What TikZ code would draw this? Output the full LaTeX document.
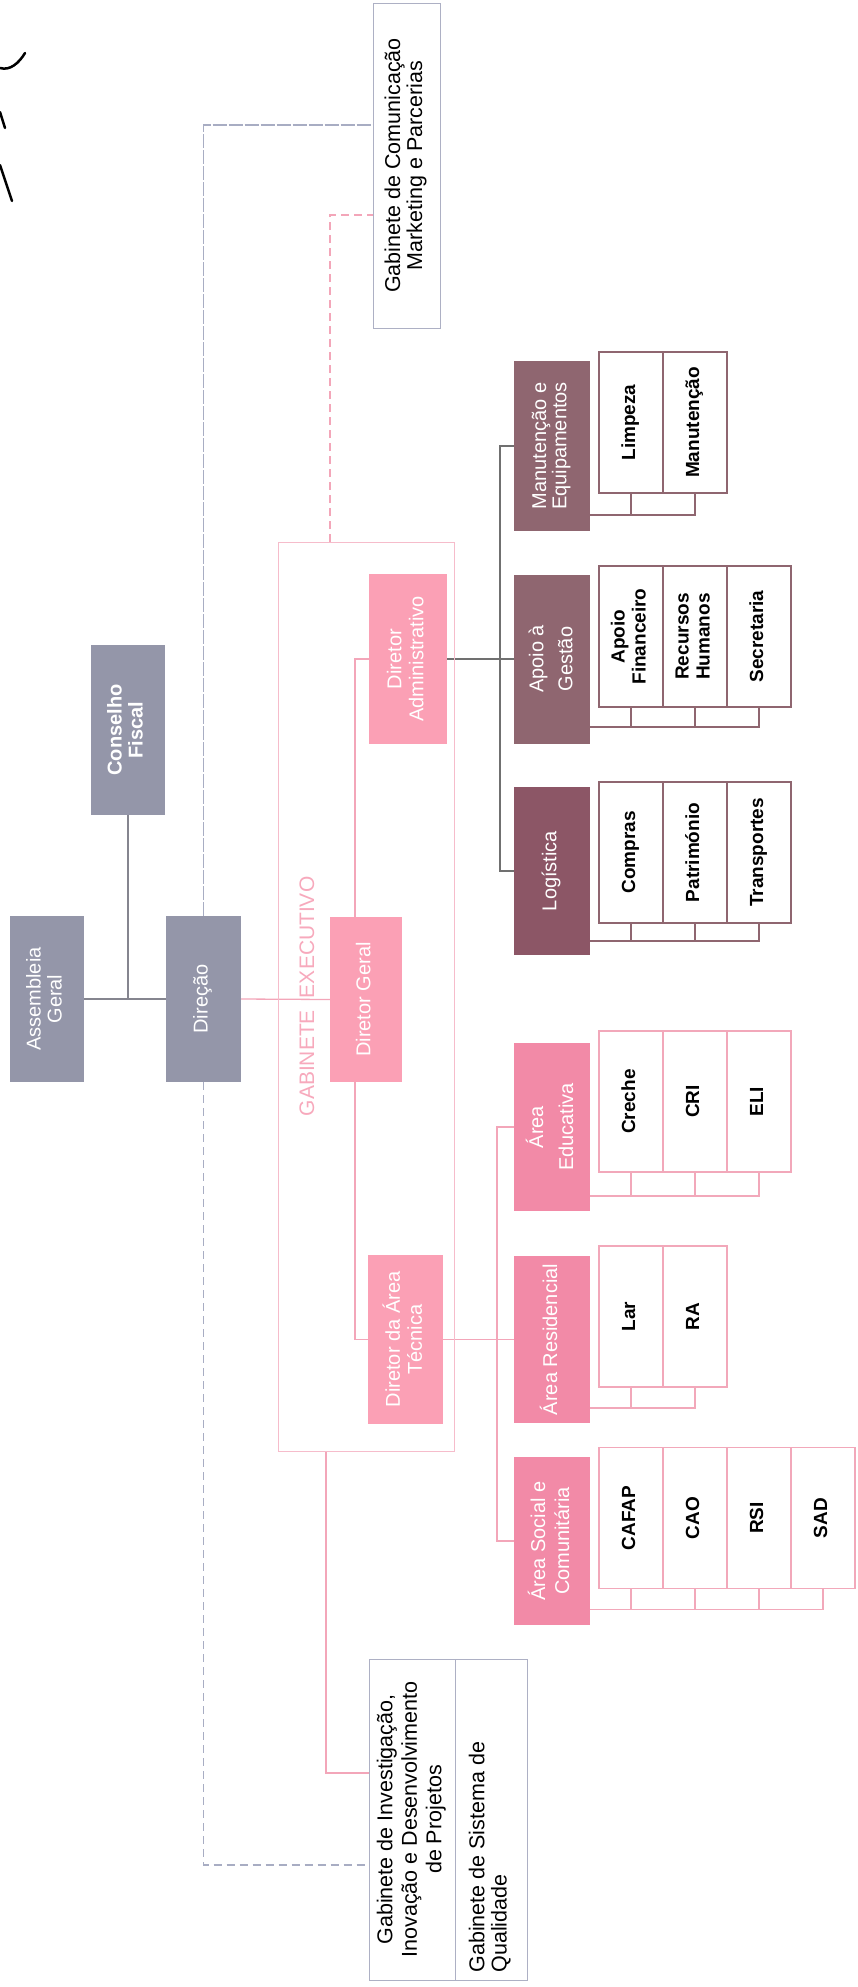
\documentclass[tikz,border=0pt]{standalone}
\usepackage{fontspec}
\setmainfont{Liberation Sans}
\usepackage{graphicx}
\usetikzlibrary{backgrounds}
\definecolor{grayc}{HTML}{9496A9}
\definecolor{pinkD}{HTML}{FBA0B5}
\definecolor{pinkA}{HTML}{F28AA7}
\definecolor{mauve}{HTML}{8F6670}
\definecolor{logc}{HTML}{8C5666}
\definecolor{lineG}{HTML}{85858F}
\definecolor{admL}{HTML}{707070}
\definecolor{pinkL}{HTML}{F3A6B9}
\definecolor{frameC}{HTML}{F6BCCB}
\definecolor{dashC}{HTML}{A8ADC3}
\definecolor{pinkS}{HTML}{F2A8BA}
\definecolor{gabC}{HTML}{ADB0C4}
\definecolor{geText}{HTML}{F7A9BC}
\newcommand\R[1]{\rotatebox{90}{\begin{tabular}{@{}c@{}}#1\end{tabular}}}
\begin{document}
\begin{tikzpicture}[x=1pt,y=-1pt,
 bx/.style={inner sep=0pt, outer sep=0pt},
 wh/.style 2 args={minimum width=#1pt, minimum height=#2pt},
 gbx/.style={bx, fill=grayc, text=white, font=\fontsize{20}{21}\selectfont},
 dbx/.style={bx, fill=pinkD, text=white, font=\fontsize{20}{22}\selectfont},
 abx/.style={bx, fill=pinkA, text=white, font=\fontsize{20}{24}\selectfont},
 mbx/.style={bx, fill=mauve, text=white, font=\fontsize{20}{22}\selectfont},
 sbM/.style={bx, draw=mauve, line width=1.3pt, fill=white, text=black, minimum width=64pt, minimum height=141pt, font=\fontsize{19}{21}\selectfont\bfseries},
 sbP/.style={sbM, draw=pinkS},
 gab/.style={bx, draw=gabC, line width=1pt, fill=white, text=black, font=\fontsize{21.5}{24}\selectfont},
 lnG/.style={draw=lineG, line width=1.3pt},
 lnA/.style={draw=admL, line width=1.5pt},
 lnP/.style={draw=pinkL, line width=1.3pt},
 rkM/.style={draw=mauve, line width=1.5pt},
 rkP/.style={draw=pinkS, line width=1.3pt},
 dsG/.style={draw=dashC, line width=1.2pt, dash pattern=on 8pt off 5pt},
 dsP/.style={draw=pinkL, line width=1.2pt, dash pattern=on 8pt off 5pt},
 sig/.style={draw=black, line width=2.5pt, line cap=round}
]
\useasboundingbox (0,0) rectangle (857,1987);

% signature marks
\draw[sig] (0,68) .. controls (10,71) and (19,63) .. (25,53);
\draw[sig] (0,112) -- (5,128);
\draw[sig] (0,165) -- (12,201);

% governance
\node[gbx, wh={74}{166}] (ag) at (47,999) {\R{Assembleia\\Geral}};
\node[gbx, wh={74}{170}, font=\fontsize{20}{21}\selectfont\bfseries] (cf) at (128,730) {\R{Conselho\\Fiscal}};
\node[gbx, wh={75}{166}] (dir) at (203.5,999) {\R{Direção}};

% gabinetes
\node[gab, wh={67}{325}, font=\fontsize{21.5}{21}\selectfont] (gcm) at (406.5,165.5) {\R{Gabinete de Comunicação\\Marketing e Parcerias}};
\node[gab, wh={86}{321}, font=\fontsize{21.5}{24.5}\selectfont] (gidp) at (412,1819.5) {\R{Gabinete de Investigação,\\Inovação e Desenvolvimento\\de Projetos}};
\node[gab, wh={72}{321}, font=\fontsize{21.5}{22}\selectfont] (gsq) at (491,1819.5) {\rotatebox{90}{\makebox[306pt][l]{\begin{tabular}{@{}l@{}}Gabinete de Sistema de\\Qualidade\end{tabular}}}};

% gabinete executivo
\node[bx, draw=frameC, line width=1pt, wh={176}{909}] (ge) at (366,996.5) {};
\node[bx, text=geText, font=\fontsize{21}{21}\selectfont, anchor=north] (ge1) at (307,1010) {\rotatebox{90}{GABINETE}};
\node[bx, text=geText, font=\fontsize{21}{21}\selectfont, anchor=south] (ge2) at (307,998) {\rotatebox{90}{EXECUTIVO}};
\node[dbx, wh={72}{165}] (dg) at (366,999.5) {\R{Diretor Geral}};
\node[dbx, wh={75}{169}] (dat) at (405.5,1339.5) {\R{Diretor da Área\\Técnica}};
\node[dbx, wh={78}{170}] (dadm) at (408,659) {\R{Diretor\\Administrativo}};

% administrative areas
\node[mbx, wh={76}{170}, font=\fontsize{20}{19}\selectfont] (me) at (552,446) {\R{Manutenção e\\Equipamentos}};
\node[mbx, wh={76}{169}, font=\fontsize{20}{29}\selectfont] (agest) at (552,659) {\R{Apoio à\\Gestão}};
\node[mbx, fill=logc, wh={76}{168}] (log) at (552,871) {\R{Logística}};

% technical areas
\node[abx, wh={76}{168}, font=\fontsize{20}{30}\selectfont] (ae) at (552,1127) {\R{Área\\Educativa}};
\node[abx, wh={76}{167}] (ar) at (552,1339.5) {\R{Área Residencial}};
\node[abx, wh={76}{168}] (asc) at (552,1541) {\R{Área Social e\\Comunitária}};

% sub units
\node[sbM] (limp) at (631,422.5) {\R{Limpeza}};
\node[sbM] (manu) at (695,422.5) {\R{Manutenção}};
\node[sbM] (af) at (631,636.5) {\R{Apoio\\Financeiro}};
\node[sbM] (rh) at (695,636.5) {\R{Recursos\\Humanos}};
\node[sbM] (sec) at (759,636.5) {\R{Secretaria}};
\node[sbM] (comp) at (631,852.5) {\R{Compras}};
\node[sbM] (patr) at (695,852.5) {\R{Património}};
\node[sbM] (transp) at (759,852.5) {\R{Transportes}};
\node[sbP] (cre) at (631,1101.5) {\R{Creche}};
\node[sbP] (cri) at (695,1101.5) {\R{CRI}};
\node[sbP] (eli) at (759,1101.5) {\R{ELI}};
\node[sbP] (lar) at (631,1316.5) {\R{Lar}};
\node[sbP] (ra) at (695,1316.5) {\R{RA}};
\node[sbP] (cafap) at (631,1518) {\R{CAFAP}};
\node[sbP] (cao) at (695,1518) {\R{CAO}};
\node[sbP] (rsi) at (759,1518) {\R{RSI}};
\node[sbP] (sad) at (823,1518) {\R{SAD}};

\coordinate (gTop) at (203.5,125);
\coordinate (pTop) at (330,215);
\coordinate (gBot) at (200,1865);
\coordinate (pBot) at (326,1773);
\coordinate (vAdm) at (355,659);
\coordinate (vTec) at (355,1339.5);

\begin{scope}[on background layer]
 \draw[lnG] (ag.east) -- (dir.west);
 \draw[lnG] (cf.south) -- (cf.south |- ag.east);
 \draw[dsG, dash pattern=on 14pt off 2pt] (dir.north) -- (gTop) -- (gTop -| gcm.west);
 \draw[dsP] (pTop |- ge.north) -- (pTop) -- (pTop -| gcm.west);
 \draw[dsG] (dir.south) -- (dir.south |- gBot) -- (gBot -| gidp.west);
 \draw[lnP] (pBot |- ge.south) -- (pBot) -- (pBot -| gidp.west);
 \draw[lnP] (dir.east) -- (dg.west);
 \draw[lnP] (dadm.west) -- (vAdm) -- (vTec) -- (dat.west);
 % administrative branch
 \draw[lnA] (dadm.east) -- (agest.west);
 \draw[lnA] (me.west) -- ++(-14,0) |- (log.west);
 % technical branch
 \draw[lnP] (dat.east) -- (ar.west);
 \draw[lnP] (ae.west) -- ++(-17,0) |- (asc.west);
 % rakes
 \draw[rkM] (limp.south) -- ++(0,22) coordinate (rme);
 \draw[rkM] (rme -| me.east) -- (manu.south |- rme) -- (manu.south);
 \draw[rkM] (af.south) -- ++(0,20) coordinate (rag);
 \draw[rkM] (rag -| agest.east) -- (sec.south |- rag) -- (sec.south);
 \draw[rkM] (rh.south) -- (rh.south |- rag);
 \draw[rkM] (comp.south) -- ++(0,18) coordinate (rlo);
 \draw[rkM] (rlo -| log.east) -- (transp.south |- rlo) -- (transp.south);
 \draw[rkM] (patr.south) -- (patr.south |- rlo);
 \draw[rkP] (cre.south) -- ++(0,24) coordinate (rae);
 \draw[rkP] (rae -| ae.east) -- (eli.south |- rae) -- (eli.south);
 \draw[rkP] (cri.south) -- (cri.south |- rae);
 \draw[rkP] (lar.south) -- ++(0,21) coordinate (rar);
 \draw[rkP] (rar -| ar.east) -- (ra.south |- rar) -- (ra.south);
 \draw[rkP] (cafap.south) -- ++(0,21) coordinate (ras);
 \draw[rkP] (ras -| asc.east) -- (sad.south |- ras) -- (sad.south);
 \draw[rkP] (cao.south) -- (cao.south |- ras);
 \draw[rkP] (rsi.south) -- (rsi.south |- ras);
\end{scope}
\end{tikzpicture}
\end{document}
